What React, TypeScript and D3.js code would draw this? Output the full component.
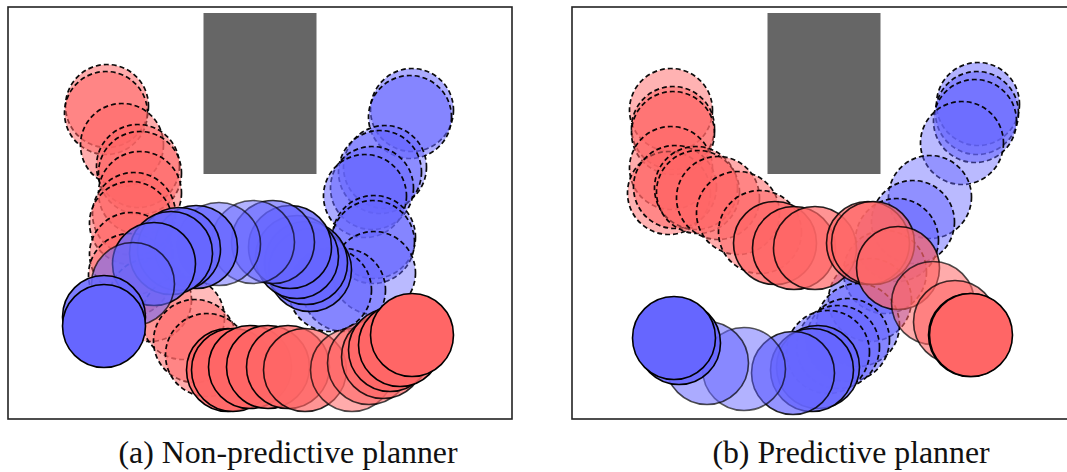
import { useEffect, useRef } from "react";
import * as d3 from "d3";

// robot positions in metres, panel centre at (0, 0); "d" = dashed step, "s" = solid step
const robotRadius = 0.415;
const obstacleX = [-0.565, 0.565];
const obstacleY = [0.39, 2.0];

// (a) non-predictive planner
const redAX = [-1.53, -1.54, -1.38, -1.22, -1.2, -1.2, -1.26, -1.29, -1.29, -1.3, -1.1, -0.77, -0.65, -0.53, -0.32, -0.27, -0.1, 0.08, 0.28, 0.45, 0.92, 1.09, 1.23, 1.3, 1.4, 1.52];
const redAY = [1.07, 1.0, 0.68, 0.47, 0.4, 0.2, -0.01, -0.1, -0.41, -0.62, -0.87, -1.05, -1.28, -1.42, -1.57, -1.57, -1.54, -1.54, -1.54, -1.57, -1.57, -1.5, -1.44, -1.37, -1.32, -1.22];
const redAStep = ["d", "d", "d", "d", "d", "d", "d", "d", "d", "d", "d", "d", "d", "d", "s", "s", "s", "s", "s", "s", "s", "s", "s", "s", "s", "s"];
const redAAlpha = [0.55, 0.55, 0.55, 0.55, 0.55, 0.55, 0.55, 0.55, 0.55, 0.5, 0.45, 0.45, 0.55, 0.55, 0.85, 0.85, 0.85, 0.85, 0.8, 0.7, 0.55, 0.6, 0.7, 0.8, 0.85, 1];

const blueAX = [1.52, 1.5, 1.25, 1.2, 1.12, 1.05, 1.14, 1.13, 1.14, 0.84, 0.7, 0.5, 0.46, 0.37, 0.3, 0.13, -0.07, -0.41, -0.64, -0.81, -0.89, -1.06, -1.27, -1.56, -1.56];
const blueAY = [1.03, 0.96, 0.46, 0.41, 0.25, 0.17, -0.24, -0.29, -0.6, -0.77, -0.77, -0.57, -0.5, -0.44, -0.34, -0.29, -0.29, -0.31, -0.34, -0.36, -0.4, -0.51, -0.71, -1.04, -1.13];
const blueAStep = ["d", "d", "d", "d", "d", "d", "d", "d", "d", "d", "d", "s", "s", "s", "s", "s", "s", "s", "s", "s", "s", "s", "s", "s", "s"];
const blueAAlpha = [0.55, 0.55, 0.45, 0.55, 0.55, 0.55, 0.55, 0.55, 0.45, 0.55, 0.55, 0.8, 0.8, 0.8, 0.8, 0.65, 0.5, 0.5, 0.8, 0.8, 0.8, 0.8, 0.55, 0.85, 1];

// (b) predictive planner
const redBX = [-1.53, -1.51, -1.51, -1.53, -1.55, -1.49, -1.28, -1.26, -1.06, -0.86, -0.64, -0.49, -0.3, -0.09, 0.44, 0.49, 0.74, 1.09, 1.31, 1.46, 1.47];
const redBY = [1.03, 0.85, 0.8, 0.45, 0.2, 0.26, 0.25, 0.21, 0.15, 0.0, -0.19, -0.3, -0.35, -0.35, -0.3, -0.3, -0.55, -0.9, -1.09, -1.22, -1.22];
const redBStep = ["d", "d", "d", "d", "d", "d", "d", "d", "d", "d", "d", "s", "s", "s", "s", "s", "s", "s", "s", "s", "s"];
const redBAlpha = [0.5, 0.55, 0.55, 0.55, 0.5, 0.55, 0.55, 0.55, 0.55, 0.55, 0.55, 0.75, 0.75, 0.7, 0.7, 0.7, 0.7, 0.55, 0.6, 0.9, 1];

const blueBX = [1.54, 1.53, 1.51, 1.38, 1.06, 0.89, 0.73, 0.61, 0.46, 0.34, 0.24, 0.14, 0.04, -0.06, -0.12, -0.31, -0.8, -1.17, -1.45, -1.5];
const blueBY = [1.09, 1.0, 0.92, 0.7, 0.16, -0.09, -0.27, -0.59, -0.87, -1.12, -1.27, -1.34, -1.39, -1.54, -1.57, -1.6, -1.56, -1.5, -1.3, -1.25];
const blueBStep = ["d", "d", "d", "d", "d", "d", "d", "d", "d", "d", "d", "d", "d", "s", "s", "s", "s", "s", "s", "s"];
const blueBAlpha = [0.5, 0.55, 0.55, 0.45, 0.45, 0.5, 0.55, 0.55, 0.55, 0.55, 0.55, 0.55, 0.55, 0.8, 0.8, 0.7, 0.5, 0.55, 0.9, 1];

const captions = ["(a) Non-predictive planner", "(b) Predictive planner"];

const toSteps = (xs: number[], ys: number[], step: string[], alpha: number[], color: string) =>
  xs.map((x, i) => ({ x, y: ys[i], dashed: step[i] === "d", alpha: alpha[i], color, i }));

const panels = [
  {
    left: 8,
    caption: captions[0],
    captionX: 288,
    robots: [
      toSteps(redAX, redAY, redAStep, redAAlpha, "#ff6666"),
      toSteps(blueAX, blueAY, blueAStep, blueAAlpha, "#6666ff"),
    ],
  },
  {
    left: 572,
    caption: captions[1],
    captionX: 851,
    robots: [
      toSteps(redBX, redBY, redBStep, redBAlpha, "#ff6666"),
      toSteps(blueBX, blueBY, blueBStep, blueBAlpha, "#6666ff"),
    ],
  },
];

const App = () => {
  const ref = useRef<SVGSVGElement>(null);

  useEffect(() => {
    const svg = d3.select(ref.current);
    svg.selectAll("*").remove();

    panels.forEach((p) => {
      const x = d3.scaleLinear().domain([-2.52, 2.52]).range([p.left, p.left + 504]);
      const y = d3.scaleLinear().domain([-2.06, 2.06]).range([419, 7]);
      const r = x(robotRadius) - x(0);
      const g = svg.append("g");

      g.append("rect")
        .attr("x", x(obstacleX[0]))
        .attr("y", y(obstacleY[1]))
        .attr("width", x(obstacleX[1]) - x(obstacleX[0]))
        .attr("height", y(obstacleY[0]) - y(obstacleY[1]))
        .attr("fill", "#666666");

      // dashed steps first, then solid, each in time order
      const all = p.robots.flat();
      const ordered = [
        ...all.filter((d) => d.dashed).sort((a, b) => a.i - b.i),
        ...all.filter((d) => !d.dashed).sort((a, b) => a.i - b.i),
      ];

      g.selectAll("circle")
        .data(ordered)
        .join("circle")
        .attr("cx", (d) => x(d.x))
        .attr("cy", (d) => y(d.y))
        .attr("r", r)
        .attr("fill", (d) => d.color)
        .attr("fill-opacity", (d) => d.alpha)
        .attr("stroke", "#000")
        .attr("stroke-width", (d) => (d.dashed ? 1.7 : 1.6))
        .attr("stroke-opacity", (d) => (d.dashed ? 0.95 : Math.min(1, d.alpha + 0.15)))
        .attr("stroke-dasharray", (d) => (d.dashed ? "5 3" : null));

      g.append("rect")
        .attr("x", x(-2.52))
        .attr("y", y(2.06))
        .attr("width", x(2.52) - x(-2.52))
        .attr("height", y(-2.06) - y(2.06))
        .attr("fill", "none")
        .attr("stroke", "#222")
        .attr("stroke-width", 1.6);

      svg
        .append("text")
        .attr("x", p.captionX)
        .attr("y", 463)
        .attr("text-anchor", "middle")
        .attr("font-family", "'Liberation Serif', serif")
        .attr("font-size", 31.8)
        .attr("fill", "#111")
        .text(p.caption);
    });
  });

  return (
    <svg
      ref={ref}
      width={1067}
      height={472}
      style={{ position: "absolute", left: 0, top: 0, background: "#fff" }}
    ></svg>
  );
};

export default App;
